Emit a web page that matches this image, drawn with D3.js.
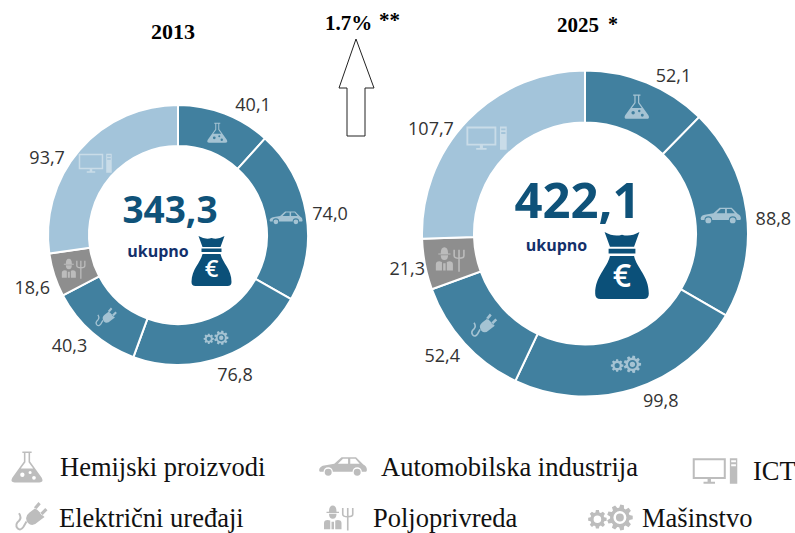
<!DOCTYPE html>
<html>
<head>
<meta charset="utf-8">
<script src="https://cdn.jsdelivr.net/npm/d3@7"></script>
<style>
  html, body { margin: 0; padding: 0; background: #fff; }
  svg { display: block; }
</style>
</head>
<body>
<div id="chart"></div>
<script>
// Data
const categories = ["Hemijski proizvodi", "Automobilska industrija", "Mašinstvo", "Električni uređaji", "Poljoprivreda", "ICT"];
const iconNames = ["flask", "car", "gears", "plug", "farmer", "monitor"];
const values2013 = [40.1, 74.0, 76.8, 40.3, 18.6, 93.7];
const values2025 = [52.1, 88.8, 99.8, 52.4, 21.3, 107.7];
const total2013 = "343,3";
const total2025 = "422,1";

const width = 795;
const height = 533;

const sliceColor = ["#41809f", "#41809f", "#41809f", "#41809f", "#8e8e8e", "#a3c4da"];
const iconColor = ["#a5c3d3", "#a5c3d3", "#a5c3d3", "#a5c3d3", "#bcbcbc", "#c9dce8"];
const fmt = d3.format(".1f");

// Small path helpers for the icons
const circ = (x, y, r) => `M${x - r},${y}a${r},${r} 0 1,0 ${2 * r},0a${r},${r} 0 1,0 ${-2 * r},0Z`;

function gear(cx, cy, R, hole, teeth) {
    let d = "";
    const step = 2 * Math.PI / teeth;
    for (let i = 0; i < teeth; i++) {
        const a = i * step;
        const pts = [[-0.3, R * 0.76], [-0.17, R], [0.17, R], [0.3, R * 0.76]];
        pts.forEach((p, j) => {
            const x = cx + p[1] * Math.cos(a + p[0] * step * 1.2);
            const y = cy + p[1] * Math.sin(a + p[0] * step * 1.2);
            d += (i === 0 && j === 0 ? "M" : "L") + x.toFixed(2) + "," + y.toFixed(2);
        });
    }
    return d + "Z" + circ(cx, cy, hole);
}

// Icons, drawn at the size they have in the 2013 donut
const icons = {
    flask: {
        legend: 1.55,
        fill: "M-3,-10H3V-9H2V-3.5L9.5,7Q11,10 8,10H-8Q-11,10 -9.5,7L-2,-3.5V-9H-3Z" +
            "M-1,-9V-3L-4,1H4L1,-3V-9Z" + circ(-3, 5, 1.4) + circ(2, 3.5, 1) + circ(4.5, 7, 1.2)
    },
    car: {
        legend: 1.45,
        fill: "M-16.5,3Q-16.5,0 -12,-0.5L-6,-1.5L-1,-6H9L14,-1Q16.5,0 16.5,3L16,4H13a3.2,3.2 0 0 0 -6.4,0H-7a3.2,3.2 0 0 0 -6.4,0H-16Z" +
            "M-3.5,-1.5L0,-5H3.5V-1.5ZM5,-5H8.5L11.5,-1.5H5Z" + circ(-10.2, 4.3, 2.4) + circ(9.8, 4.3, 2.4)
    },
    monitor: {
        legend: 1.35,
        fill: "M-16.5,-9.5H8V6H-16.5ZM-15,-8V4.5H6.5V-8Z" +
            "M-5.5,6H-3V8H0V9.5H-8.5V8H-5.5Z" +
            "M11,-9.5H16.5V9.5H11ZM12,-8V-6.5H15.5V-8ZM12,-5V-3.5H15.5V-5Z"
    },
    plug: {
        legend: 1.5,
        fill: "M-2,4Q-5,0 -1,-3L3,-6L9,0L5,3Q1,7 -2,4Z" +
            "M2,-6.5L5,-10L6.5,-8.5L3.5,-5ZM6,-2.5L9.5,-6L11,-4.5L7.5,-1Z",
        line: "M-3,3L-5,6.5Q-7,9.5 -9,7.5Q-11,5 -8,2.5Q-6,0.5 -8,-2.5"
    },
    farmer: {
        legend: 1.25,
        fill: "M-10,-5H0V-4H-10ZM-8,-5Q-8,-10 -5,-10Q-2,-10 -2,-5Z" +
            "M-8,-3.5H-2Q-2,0.5 -5,0.5Q-8,0.5 -8,-3.5Z" +
            "M-12,9V4Q-12,1.5 -9,1.5L-7,2V9ZM-3,2L-1,1.5Q2,1.5 2,4V9H-3ZM-6,3H-4V9H-6Z",
        line: "M7,-1V10M3,-8V-3Q3,-1 7,-1Q11,-1 11,-3V-8M7,-8V-1"
    },
    gears: {
        legend: 1.8,
        fill: gear(-7, 1, 5.2, 2.1, 8) + gear(5.5, 0, 7.2, 3.6, 9) + circ(5.5, 0, 2.2)
    }
};

// Append one icon to a selection
function drawIcon(g, name, color) {
    const ic = icons[name];
    g.append("path")
        .attr("d", ic.fill)
        .attr("fill", color)
        .attr("fill-rule", "evenodd");
    if (ic.line) {
        g.append("path")
            .attr("d", ic.line)
            .attr("fill", "none")
            .attr("stroke", color)
            .attr("stroke-width", 1.3);
    }
}

// Money bag, euro sign stays real text
function drawBag(g) {
    g.append("path")
        .attr("fill", "#0b5079")
        .attr("d", "M-13,-25Q-6,-21 0,-23Q6,-21 13,-25L9,-14H-9Z" +
            "M-10,-12.5H10V-9H-10Z" +
            "M-9,-7H9C11,2 20,8 20,21Q20,25 16,25H-16Q-20,25 -20,21C-20,8 -11,2 -9,-7Z");
    g.append("text")
        .attr("y", 16)
        .attr("text-anchor", "middle")
        .attr("font-family", "'Open Sans', sans-serif")
        .attr("font-weight", 600)
        .attr("font-size", 24)
        .attr("fill", "#fff")
        .text("€");
}

const svg = d3.select("#chart").append("svg")
    .attr("width", width)
    .attr("height", height)
    .attr("viewBox", [0, 0, width, height]);

const pie = d3.pie().sort(null).value(d => d);

// Draw one donut
function drawDonut(cfg) {
    const arc = d3.arc().innerRadius(cfg.inner).outerRadius(cfg.outer);
    const g = svg.append("g").attr("transform", `translate(${cfg.cx},${cfg.cy})`);
    const arcs = pie(cfg.values);

    g.selectAll("path.slice")
        .data(arcs)
        .join("path")
        .attr("class", "slice")
        .attr("d", arc)
        .attr("fill", (d, i) => sliceColor[i])
        .attr("stroke", "#fff")
        .attr("stroke-width", 2);

    // Icons sit in the middle of each ring slice
    arcs.forEach((d, i) => {
        const ig = g.append("g")
            .attr("transform", `translate(${arc.centroid(d)}) scale(${cfg.iconScale})`);
        drawIcon(ig, iconNames[i], iconColor[i]);
    });

    // Value labels outside the ring
    g.selectAll("text.val")
        .data(arcs)
        .join("text")
        .attr("class", "val")
        .attr("transform", (d, i) => {
            const p = d3.pointRadial((d.startAngle + d.endAngle) / 2, cfg.outer + 18);
            return `translate(${p[0] + cfg.nudge[i][0]},${p[1] + cfg.nudge[i][1]})`;
        })
        .attr("text-anchor", "middle")
        .attr("dy", "0.36em")
        .attr("font-family", "'Open Sans', sans-serif")
        .attr("font-size", 18)
        .attr("fill", "#333")
        .text(d => fmt(d.value).replace(".", ","));

    g.append("text")
        .attr("x", cfg.totalX)
        .attr("y", cfg.totalY)
        .attr("text-anchor", "middle")
        .attr("font-family", "'Open Sans', sans-serif")
        .attr("font-weight", 700)
        .attr("font-size", cfg.totalSize)
        .attr("fill", "#0f5279")
        .text(cfg.total);

    g.append("text")
        .attr("x", cfg.ukupnoX)
        .attr("y", cfg.ukupnoY)
        .attr("text-anchor", "middle")
        .attr("font-family", "'Open Sans', sans-serif")
        .attr("font-weight", 700)
        .attr("font-size", 16)
        .attr("fill", "#13306b")
        .text("ukupno");

    const bag = g.append("g")
        .attr("transform", `translate(${cfg.bagX},${cfg.bagY}) scale(${cfg.bagScale})`);
    drawBag(bag);
}

drawDonut({
    values: values2013, total: total2013, cx: 178, cy: 235, outer: 130, inner: 89, iconScale: 1,
    nudge: [[22, 8], [6, 2], [6, 1], [-11, -1], [-5, 7], [-19, 19]],
    totalX: -8, totalY: -12, totalSize: 37, ukupnoX: -20, ukupnoY: 22,
    bagX: 33.5, bagY: 26, bagScale: 1
});

drawDonut({
    values: values2025, total: total2025, cx: 585, cy: 233.5, outer: 163, inner: 111, iconScale: 1.22,
    nudge: [[20, 10], [9, 9], [22, -6], [-9, 0], [0, 1], [-24, 21]],
    totalX: -7.5, totalY: -15.5, totalSize: 49, ukupnoX: -28.5, ukupnoY: 17.5,
    bagX: 37, bagY: 32, bagScale: 1.34
});

// Titles
const titleFont = "'Liberation Serif', serif";
const title = (x, y, size, txt, anchor) => svg.append("text")
    .attr("x", x)
    .attr("y", y)
    .attr("text-anchor", anchor || "start")
    .attr("font-family", titleFont)
    .attr("font-weight", 700)
    .attr("font-size", size)
    .attr("fill", "#000")
    .text(txt);

title(173, 39, 22, "2013", "middle");
title(325, 30, 21, "1.7%");
title(379, 27, 21, "**");
title(557, 32, 21, "2025");
title(608, 31, 20, "*");

// Growth arrow between the donuts
svg.append("path")
    .attr("d", d3.line()([[356, 39], [374, 88], [365, 88], [365, 136], [347, 136], [347, 88], [339, 88]]) + "Z")
    .attr("fill", "#fff")
    .attr("stroke", "#222")
    .attr("stroke-width", 1);

// Legend, same order as the categories
const legendIconPos = [[27, 467], [343, 466], [610, 517.5], [31, 517], [339, 518], [715, 471]];
const legendTextPos = [[60, 476], [381, 476], [642, 527], [59, 527], [373, 527], [753, 480]];

categories.forEach((c, i) => {
    const name = iconNames[i];
    const ig = svg.append("g")
        .attr("transform", `translate(${legendIconPos[i]}) scale(${icons[name].legend})`);
    drawIcon(ig, name, "#bdbdbd");
    svg.append("text")
        .attr("x", legendTextPos[i][0])
        .attr("y", legendTextPos[i][1])
        .attr("font-family", titleFont)
        .attr("font-size", 26.5)
        .attr("fill", "#111")
        .text(c);
});
</script>
</body>
</html>
